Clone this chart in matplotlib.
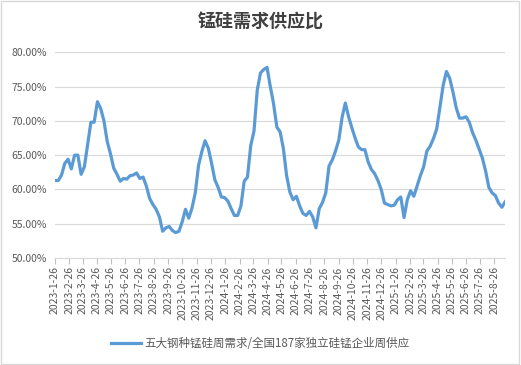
import matplotlib
matplotlib.use('Agg')
import matplotlib.pyplot as plt
from matplotlib.patches import Rectangle
import pandas as pd

plt.rcParams['font.family'] = ['Noto Sans CJK SC', 'DejaVu Sans']

# weekly demand/supply ratio (%), starting 2023-1-26
ratio = [
    61.3, 61.3, 62.1, 63.8, 64.4, 63.0, 65.0, 65.0, 62.2, 63.3,
    66.5, 69.8, 69.8, 72.8, 71.8, 70.0, 67.0, 65.2, 63.1, 62.2,
    61.2, 61.6, 61.5, 62.0, 62.1, 62.4, 61.6, 61.8, 60.5, 58.7,
    57.8, 57.1, 56.0, 53.9, 54.4, 54.6, 54.0, 53.7, 53.9, 55.3,
    57.1, 55.8, 57.3, 59.5, 63.5, 65.5, 67.1, 66.0, 63.8, 61.4,
    60.3, 58.9, 58.8, 58.3, 57.2, 56.2, 56.2, 57.6, 61.2, 61.8,
    66.4, 68.5, 74.5, 77.0, 77.5, 77.8, 75.0, 72.5, 69.1, 68.4,
    66.0, 62.0, 59.6, 58.5, 59.0, 57.6, 56.5, 56.2, 56.8, 56.0,
    54.4, 57.2, 58.1, 59.5, 63.4, 64.3, 65.6, 67.2, 70.5, 72.6,
    70.6, 69.0, 67.5, 66.2, 65.8, 65.8, 64.0, 62.9, 62.3, 61.3,
    60.0, 58.0, 57.8, 57.6, 57.7, 58.5, 58.9, 55.9, 58.5, 59.8,
    59.0, 60.5, 62.0, 63.3, 65.6, 66.3, 67.4, 68.8, 72.0, 75.2,
    77.2, 76.2, 74.2, 71.9, 70.4, 70.4, 70.6, 69.8, 68.3, 67.2,
    65.9, 64.6, 62.7, 60.3, 59.5, 59.1, 58.0, 57.4, 58.2,
]
dates = pd.date_range('2023-01-26', periods=len(ratio), freq='7D')

tick_dates = pd.date_range('2023-01-01', '2025-08-01', freq='MS') + pd.Timedelta(days=25)
tick_labels = [f'{d.year}-{d.month}-{d.day}' for d in tick_dates]

title = '锰硅需求供应比'
series_name = '五大钢种锰硅周需求/全国187家独立硅锰企业周供应'

fig = plt.figure(figsize=(5.21, 3.65), dpi=100)
ax = fig.add_axes([0.1056, 0.2932, 0.864, 0.5635])

ax.plot(dates, ratio, color='#5B9BD5', linewidth=2.3, label=series_name)

ax.set_ylim(50, 80)
ax.set_yticks(range(50, 81, 5))
ax.set_yticklabels([f'{v:.2f}%' for v in range(50, 81, 5)])
ax.set_xlim(dates[0], dates[-1])
ax.set_xticks(tick_dates)
ax.set_xticklabels(tick_labels, rotation=90)

ax.grid(axis='y', color='#D9D9D9', linewidth=0.8)
ax.set_axisbelow(True)
for s in ['top', 'right', 'left']:
    ax.spines[s].set_visible(False)
ax.spines['bottom'].set_color('#D9D9D9')
ax.tick_params(axis='y', length=0, labelsize=7.5, labelcolor='#595959', pad=6)
ax.tick_params(axis='x', length=4, color='#BFBFBF', labelsize=7.5, labelcolor='#595959', pad=2)

fig.text(0.5, 0.94, title, ha='center', va='center', fontsize=13,
         fontweight='bold', color='#404040')

fig.legend(loc='center', bbox_to_anchor=(0.5, 0.06), frameon=False,
           fontsize=8.3, labelcolor='#595959', handlelength=2.6, handletextpad=0.3)

fig.patches.append(Rectangle((0.002, 0.003), 0.995, 0.994, transform=fig.transFigure,
                             fill=False, edgecolor='#D9D9D9', linewidth=1))

fig.savefig('out.png', dpi=100)
